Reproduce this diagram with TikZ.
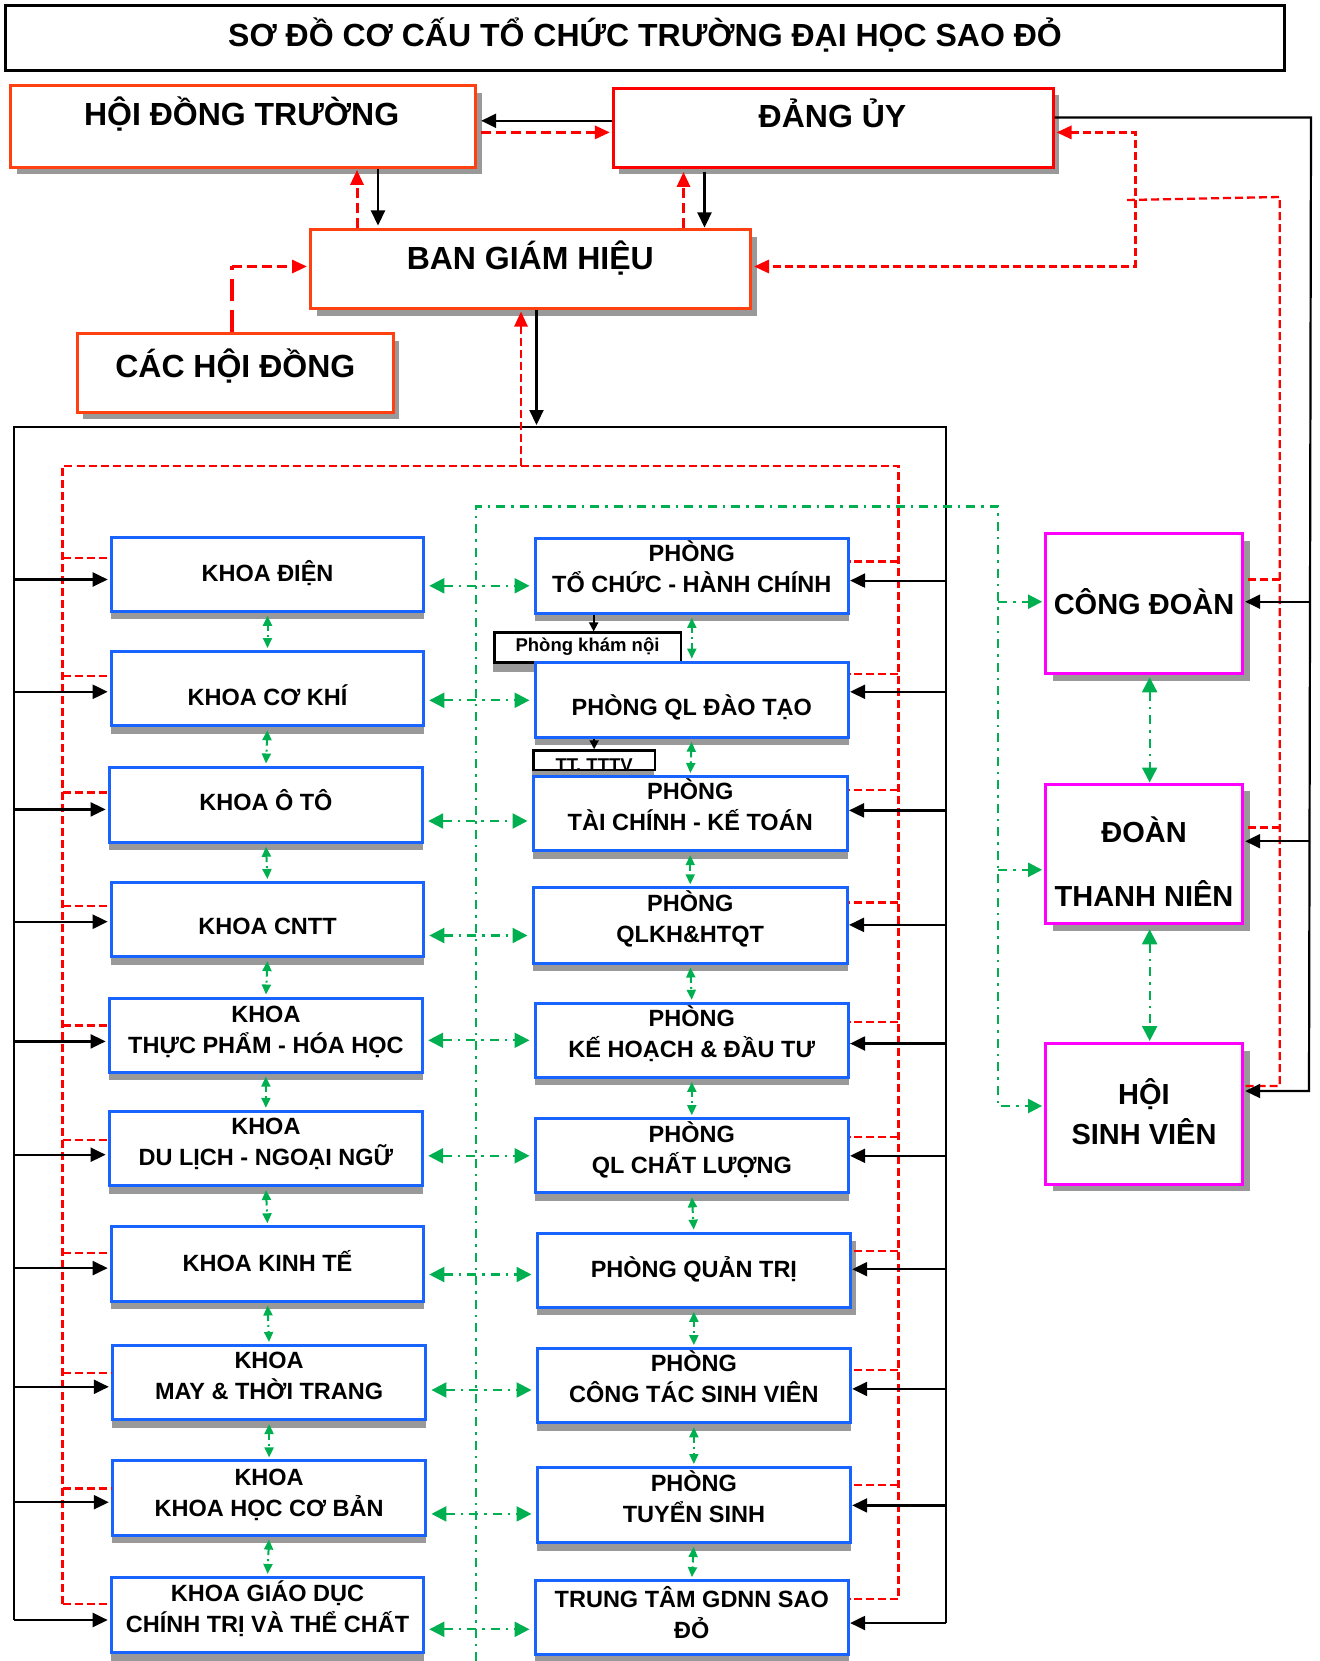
\documentclass[tikz,border=0pt]{standalone}
\usepackage{fontspec}
\setmainfont{Liberation Sans}
\usetikzlibrary{arrows.meta,shadows,fit}
\definecolor{bblue}{RGB}{25,100,255}
\definecolor{orred}{RGB}{255,64,16}
\definecolor{ggreen}{RGB}{0,176,80}
\definecolor{shgray}{RGB}{153,153,153}
\definecolor{magen}{RGB}{255,0,255}
\begin{document}
\begin{tikzpicture}[x=1pt,y=-1pt,
  titlebox/.style={draw=black, line width=3pt, inner sep=0pt},
  topbox/.style={draw=orred, line width=3pt, fill=white, inner sep=0pt,
     drop shadow={shadow xshift=6pt, shadow yshift=-7pt, fill=shgray, opacity=1}},
  kbox/.style={draw=bblue, line width=3pt, fill=white, inner sep=0pt,
     drop shadow={shadow xshift=0pt, shadow yshift=-8pt, fill=shgray, opacity=1}},
  magbox/.style={draw=magen, line width=3pt, fill=white, inner sep=0pt,
     drop shadow={shadow xshift=7pt, shadow yshift=-7pt, fill=shgray, opacity=1}},
  smallbox/.style={draw=black, line width=2.5pt, fill=white, inner sep=0pt,
     drop shadow={shadow xshift=-1pt, shadow yshift=-9pt, fill=shgray, opacity=1}},
  bigtxt/.style={font=\bfseries\fontsize{32}{38}\selectfont, inner sep=0pt, anchor=base},
  btxt/.style={font=\bfseries\fontsize{23.5}{31}\selectfont, inner sep=0pt, align=center, anchor=base},
  mtxt/.style={font=\bfseries\fontsize{29}{40}\selectfont, inner sep=0pt, align=center, anchor=base},
  stxt/.style={font=\bfseries\fontsize{18.5}{22}\selectfont, inner sep=0pt, anchor=base},
  blk/.style={draw=black, line width=2.2pt},
  blkarr/.style={blk, -{Triangle[length=15pt,width=14pt]}},
  blkarrS/.style={draw=black, line width=2pt, -{Triangle[length=9pt,width=9pt]}},
  rdash/.style={draw=red, line width=2.3pt, dash pattern=on 8pt off 4pt},
  rarr/.style={draw=red, line width=3pt, dash pattern=on 10pt off 5pt, -{Triangle[length=15pt,width=13pt]}},
  rarr2/.style={rdash, {Triangle[length=15pt,width=13pt]}-{Triangle[length=15pt,width=13pt]}},
  gdd/.style={draw=ggreen, line width=2.3pt, dash pattern=on 9pt off 6pt on 2.5pt off 6pt},
  garrH/.style={gdd, {Triangle[length=15pt,width=15pt]}-{Triangle[length=15pt,width=15pt]}},
  garr/.style={gdd, -{Triangle[length=14pt,width=14pt]}},
  gvert/.style={draw=ggreen, line width=2pt, dash pattern=on 6pt off 4pt on 2pt off 4pt,
     {Triangle[length=10pt,width=9pt]}-{Triangle[length=10pt,width=9pt]}},
  gvertM/.style={gdd, {Triangle[length=15pt,width=15pt]}-{Triangle[length=15pt,width=15pt]}},
]
\useasboundingbox (0,0) rectangle (1319,1661);
\fill[white] (0,0) rectangle (1319,1661);

% ---------- title ----------
\node[titlebox, fit={(5.5,6) (1284.5,71)}] (title) {};
\node[bigtxt] (titlet) at (645,46.5) {SƠ ĐỒ CƠ CẤU TỔ CHỨC TRƯỜNG ĐẠI HỌC SAO ĐỎ};

% ---------- top boxes ----------
\node[topbox, fit={(10.6,85.8) (475.7,167.4)}] (hdt) {};
\node[topbox, draw=red, fit={(613.4,88.5) (1053,167.4)}] (du) {};
\node[topbox, fit={(310.5,230) (750.5,309)}] (bgh) {};
\node[topbox, fit={(77.3,333.5) (393.3,412.3)}] (chd) {};

% ---------- right column ----------
\node[magbox, fit={(1045.6,533.9) (1242.7,673.8)}] (cd) {};
\node[magbox, fit={(1045.6,784) (1242.7,923.8)}] (dtn) {};
\node[magbox, fit={(1045.6,1043.5) (1242.7,1184.4)}] (hsv) {};

% ---------- khoa ----------
\foreach \i/\xa/\ya/\xb/\yb in {1/111.2/537.1/423.8/611.3, 2/111.2/651.5/423.8/725.7,
   3/109.1/767/422.7/842.2, 4/111.2/882.5/423.8/956.6, 5/109.1/998/422.7/1072.1,
   6/109.1/1111.3/422.7/1185.5, 7/111.2/1226.8/423.8/1301, 8/112.3/1345.4/425.9/1419.6,
   9/112.3/1460.9/425.9/1535.1, 10/111.2/1577.4/423.8/1652.7}
  \node[kbox, fit={(\xa,\ya) (\xb,\yb)}] (k\i) {};

% ---------- phong ----------
\node[kbox, fit={(535,538.2) (848.6,613.4)}] (p1) {};
\node[smallbox, fit={(494.3,632.7) (681,662.5)}] (pkn) {};
\node[kbox, fit={(535,662.1) (848.6,737.3)}] (p2) {};
\node[smallbox, fit={(533.3,750.5) (655,770)}] (tttv) {};
\node[kbox, fit={(533,776.5) (847.5,850.7)}] (p3) {};
\node[kbox, fit={(533,887.8) (847.5,963)}] (p4) {};
\node[kbox, fit={(535,1003.3) (848.6,1077.4)}] (p5) {};
\node[kbox, fit={(535,1118.7) (848.6,1192.9)}] (p6) {};
\node[kbox, drop shadow={shadow xshift=5pt, shadow yshift=-8pt, fill=shgray, opacity=1}, fit={(537,1233.1) (850.7,1307.3)}] (p7) {};
\node[kbox, fit={(537,1348.6) (850.7,1422.8)}] (p8) {};
\node[kbox, fit={(537,1467.5) (850.7,1542.5)}] (p9) {};
\node[kbox, fit={(535,1580.6) (848.6,1654.8)}] (p10) {};

% ---------- top connectors ----------
\coordinate (yA) at (545,120.8);
\coordinate (yB) at (545,132.4);
\draw[blkarr, shorten >=4pt] (du.west |- yA) -- (hdt.east |- yA);
\draw[rarr, shorten <=4pt, shorten >=2pt] (hdt.east |- yB) -- (du.west |- yB);
\coordinate (xA) at (378,200);
\coordinate (xB) at (357,200);
\coordinate (xC) at (704.5,200);
\coordinate (xD) at (683.5,200);
\draw[blkarr, shorten >=3pt] (xA |- hdt.south) -- (xA |- bgh.north);
\draw[rarr, shorten >=1pt] (xB |- bgh.north) -- (xB |- hdt.south);
\draw[blkarr, shorten <=3pt, shorten >=1pt] (xC |- du.south) -- (xC |- bgh.north);
\draw[rarr, shorten >=3pt] (xD |- bgh.north) -- (xD |- du.south);

\coordinate (rA) at (1135,132.4);
\coordinate (rB) at (1135,266.5);
\draw[rarr2, line width=3pt, shorten <=2pt, shorten >=2pt] (du.east |- rA) -- (rA) -- (rB) -- (bgh.east |- rB);

\coordinate (cB) at (232,266.5);
\draw[draw=red, line width=4.5pt, dash pattern=on 22pt off 9pt] (cB |- chd.north) -- (cB);
\draw[rarr, shorten >=2pt] (cB) -- (cB -| bgh.west);

% red link to student organisations
\coordinate (rC) at (1127,200);
\coordinate (rD) at (1279.8,197);
\coordinate (rE) at (1279.8,1086);
\draw[rdash] (rC) -- (rD) -- (rE) -- (rE -| hsv.east);
\coordinate (rF) at (1279.8,579.5);
\draw[rdash] (rF) -- (rF -| cd.east);
\coordinate (rG) at (1279.8,827.4);
\draw[rdash] (rG) -- (rG -| dtn.east);

% black link from Dang uy
\coordinate (bA) at (1311,117.5);
\coordinate (bB) at (1309,1091);
\draw[blkarr, shorten >=1pt] (du.east |- bA) -- (bA) -- (bB) -- (bB -| hsv.east);
\coordinate (bC) at (1310,601.7);
\draw[blkarr, shorten >=1pt] (bC) -- (bC -| cd.east);
\coordinate (bD) at (1310,841.2);
\draw[blkarr, shorten >=1pt] (bD) -- (bD -| dtn.east);

% black frame
\coordinate (fTL) at (13.8,427);
\coordinate (fTR) at (946,427);
\coordinate (fBL) at (13.8,1620);
\coordinate (fBR) at (946,1623);
\draw[blk] (fBL) -- (fTL) -- (fTR) -- (fBR);
\coordinate (xE) at (536.5,400);
\draw[blkarr, shorten >=2pt] (xE |- bgh.south) -- (xE |- fTL);

% red frame
\coordinate (rfTL) at (62.5,466);
\coordinate (rfTR) at (898.4,466);
\coordinate (rfBL) at (62.5,1604);
\coordinate (rfBR) at (898.4,1599);
\draw[rdash] (rfBL) -- (rfTL) -- (rfTR) -- (rfBR);
\coordinate (xF) at (521,400);
\draw[rarr, line width=2.5pt, dash pattern=on 8pt off 4pt, shorten >=1pt] (xF |- rfTL) -- (xF |- bgh.south);

% green frame
\coordinate (gTL) at (476,506.4);
\coordinate (gTR) at (998,506.4);
\coordinate (gBR) at (998,1106);
\coordinate (gB) at (476,1661);
\draw[garr, shorten >=2pt] (gB) -- (gTL) -- (gTR) -- (gBR) -- (gBR -| hsv.west);
\coordinate (gC) at (998,601.7);
\draw[garr, shorten >=2pt] (gC) -- (gC -| cd.west);
\coordinate (gD) at (998,869.8);
\draw[garr, shorten >=2pt] (gD) -- (gD -| dtn.west);

% rows
\foreach \i/\ly/\ry/\rl/\rr/\gy in {1/579.5/580.6/558.3/561.5/585.8, 2/691.8/691.8/675.9/673.8/700.3,
   3/809.4/810.4/792.5/790.3/821, 4/921.7/924.9/905.8/902.6/935.5, 5/1041.4/1043.5/1025.5/1022.3/1040.3,
   6/1154.7/1155.8/1139.9/1136.7/1155.8, 7/1268.1/1269.2/1253.3/1251.2/1274.5, 8/1386.8/1388.9/1373/1369.8/1390,
   9/1502.2/1505.4/1488.5/1485.3/1513.9, 10/1620/1623/1604/1599/1629.3} {
  \coordinate (L\i) at (13.8,\ly);
  \coordinate (R\i) at (946,\ry);
  \coordinate (RL\i) at (62.5,\rl);
  \coordinate (RR\i) at (898.4,\rr);
  \coordinate (G\i) at (476,\gy);
  \draw[blkarr, shorten >=2pt] (L\i) -- (L\i -| k\i.west);
  \draw[blkarr] (R\i) -- (R\i -| p\i.east);
  \draw[rdash] (RL\i) -- (RL\i -| k\i.west);
  \draw[rdash] (RR\i) -- (RR\i -| p\i.east);
  \draw[garrH, shorten <=4pt, shorten >=4pt] (G\i -| k\i.east) -- (G\i -| p\i.west);
}

% vertical green links
\foreach \a/\b in {1/2,2/3,3/4,4/5,5/6,6/7,7/8,8/9,9/10} {
  \draw[gvert, shorten <=3pt, shorten >=2pt] (k\a.south) -- (k\b.north);
  \draw[gvert, shorten <=3pt, shorten >=2pt] (p\a.south) -- (p\b.north);
}
\draw[gvertM, shorten <=2pt] ([xshift=5.5pt]cd.south) -- ([xshift=5.5pt]dtn.north);
\draw[gvertM, shorten <=4pt, shorten >=1pt] ([xshift=5.5pt]dtn.south) -- ([xshift=5.5pt]hsv.north);

% small arrows
\coordinate (pknin) at ([xshift=6pt]pkn.north);
\draw[blkarrS] (pknin |- p1.south) -- (pknin);
\draw[blkarrS] (tttv.north |- p2.south) -- (tttv.north);

% ---------- texts (multi-line: y = baseline of last line) ----------
\node[bigtxt] (hdtt) at (241.6,126) {HỘI ĐỒNG TRƯỜNG};
\node[bigtxt] (dut) at (832.5,128) {ĐẢNG ỦY};
\node[bigtxt] (bght) at (530.3,269.5) {BAN GIÁM HIỆU};
\node[bigtxt] (chdt) at (235.3,377.5) {CÁC HỘI ĐỒNG};

\node[btxt] (kt1) at (267.5,581.5) {KHOA ĐIỆN};
\node[btxt] (kt2) at (267.5,705.5) {KHOA CƠ KHÍ};
\node[btxt] (kt3) at (265.9,810.4) {KHOA Ô TÔ};
\node[btxt] (kt4) at (267.5,934.3) {KHOA CNTT};
\node[btxt] (kt5) at (265.9,1053.2) {KHOA\\THỰC PHẨM - HÓA HỌC};
\node[btxt] (kt6) at (265.9,1165.5) {KHOA\\DU LỊCH - NGOẠI NGỮ};
\node[btxt] (kt7) at (267.5,1271.2) {KHOA KINH TẾ};
\node[btxt] (kt8) at (269.1,1399.7) {KHOA\\MAY \& THỜI TRANG};
\node[btxt] (kt9) at (269.1,1516.2) {KHOA\\KHOA HỌC CƠ BẢN};
\node[btxt] (kt10) at (267.5,1632.7) {KHOA GIÁO DỤC\\CHÍNH TRỊ VÀ THỂ CHẤT};

\node[btxt] (pt1) at (691.8,592.4) {PHÒNG\\TỔ CHỨC - HÀNH CHÍNH};
\node[btxt] (pt2) at (691.8,715) {PHÒNG QL ĐÀO TẠO};
\node[btxt] (pt3) at (690.2,830) {PHÒNG\\TÀI CHÍNH - KẾ TOÁN};
\node[btxt] (pt4) at (690.2,942) {PHÒNG\\QLKH\&HTQT};
\node[btxt] (pt5) at (691.8,1057.5) {PHÒNG\\KẾ HOẠCH \& ĐẦU TƯ};
\node[btxt] (pt6) at (691.8,1173) {PHÒNG\\QL CHẤT LƯỢNG};
\node[btxt] (pt7) at (693.9,1277.5) {PHÒNG QUẢN TRỊ};
\node[btxt] (pt8) at (693.9,1402.5) {PHÒNG\\CÔNG TÁC SINH VIÊN};
\node[btxt] (pt9) at (693.9,1522) {PHÒNG\\TUYỂN SINH};
\node[btxt] (pt10) at (691.8,1638) {TRUNG TÂM GDNN SAO\\ĐỎ};

\node[stxt] (pknt) at (587.5,651.6) {Phòng khám nội};
\node[stxt] (tttvt) at (594.2,771) {TT. TTTV};

\node[mtxt] (cdt) at (1144,614.3) {CÔNG ĐOÀN};
\node[mtxt] (dtnt) at (1144,906.7) {ĐOÀN\\[24.7pt]THANH NIÊN};
\node[mtxt] (hsvt) at (1144,1144) {HỘI\\SINH VIÊN};
\end{tikzpicture}
\end{document}
